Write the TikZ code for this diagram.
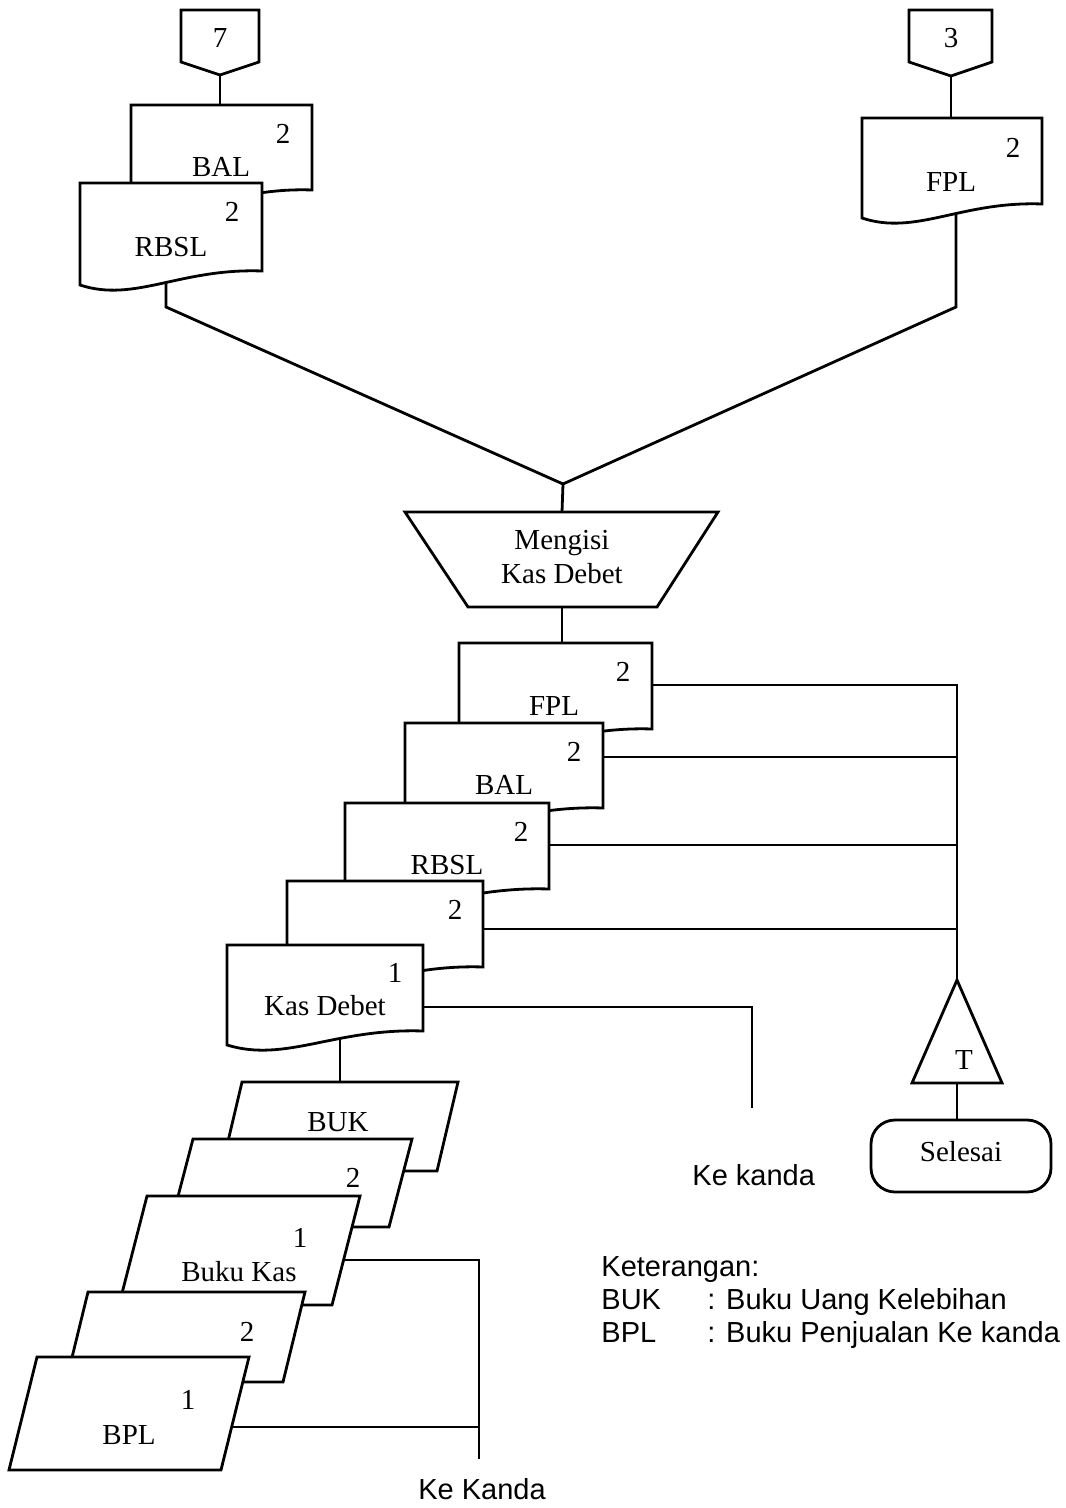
\documentclass[tikz,border=0pt]{standalone}
\usepackage{fontspec}
\setmainfont{Liberation Serif}
\newfontfamily\sansfam{Liberation Sans}
\usetikzlibrary{calc}
\pgfdeclarelayer{bg}
\pgfsetlayers{bg,main}
\tikzset{
  shp/.style={draw=black, fill=white, line width=1.4pt, line join=miter},
  conn/.style={draw=black, line width=1.4pt},
  lbl/.style={font=\fontsize{14.5}{17}\selectfont, inner sep=0pt, align=center},
  slbl/.style={font=\sansfam\fontsize{14.5}{17}\selectfont, inner sep=0pt},
}
% document symbol: name, left x, top y, right x, bottom y at the left edge
\newcommand\docshape[5]{%
  \filldraw[shp] (#2,#3) coordinate (#1-nw) -- (#4,#3) coordinate (#1-ne)
    -- (#4,#5-14) coordinate (#1-se)
    .. controls ({#2+0.55*(#4-#2)},#5-17) and ({#2+0.3*(#4-#2)},#5+18) .. (#2,#5) coordinate (#1-sw)
    -- cycle;}
% slanted record symbol: name, top-left x, top-right x, top y, bottom y, slant
\newcommand\paraslant[6]{%
  \filldraw[shp] (#2,#4) coordinate (#1-nw) -- (#3,#4) coordinate (#1-ne)
    -- ({#3-#6},#5) coordinate (#1-se) -- ({#2-#6},#5) coordinate (#1-sw) -- cycle;}
\begin{document}
\begin{tikzpicture}[x=0.5pt,y=-0.5pt]
\useasboundingbox (0,0) rectangle (1065,1508);

% off-page connectors
\filldraw[shp] (181,10) -- (259,10) -- (259,62) -- (220,75) coordinate (c7-s) -- (181,62) -- cycle;
\node[lbl] (c7) at (220,38) {7};
\filldraw[shp] (909,10) -- (992,10) -- (992,62) -- (951,76) coordinate (c3-s) -- (909,62) -- cycle;
\node[lbl] (c3) at (951,38) {3};

% incoming documents
\docshape{bal1}{131}{105}{312}{204}
\node[lbl] (bal1-n) at (283,134) {2};
\node[lbl] (bal1-t) at (221,167) {BAL};
\docshape{rb1}{80}{183}{262}{285}
\node[lbl] (rb1-n) at (232,212) {2};
\node[lbl] (rb1-t) at (171,247) {RBSL};
\docshape{fp1}{862}{118}{1042}{218}
\node[lbl] (fp1-n) at (1013,148) {2};
\node[lbl] (fp1-t) at (951,182) {FPL};

% manual operation
\filldraw[shp] (405,512) coordinate (op-nw) -- (718,512) -- (657,607) -- (468,607) -- cycle;
\coordinate (op-n) at (562,512);
\coordinate (op-s) at (562,607);
\node[lbl] (op) at (562,557) {Mengisi\\Kas Debet};

% output documents
\docshape{fp2}{459}{643}{652}{743}
\node[lbl] (fp2-n) at (623,672) {2};
\node[lbl] (fp2-t) at (554,706) {FPL};
\docshape{bal2}{405}{723}{603}{822}
\node[lbl] (bal2-n) at (574,752) {2};
\node[lbl] (bal2-t) at (504,785) {BAL};
\docshape{rb2}{345}{803}{549}{903}
\node[lbl] (rb2-n) at (521,832) {2};
\node[lbl] (rb2-t) at (447,865) {RBSL};
\docshape{kd2}{287}{881}{483}{981}
\node[lbl] (kd2-n) at (455,910) {2};
\docshape{kd1}{227}{945}{423}{1045}
\node[lbl] (kd1-n) at (395,973) {1};
\node[lbl] (kd1-t) at (325,1006) {Kas Debet};

% offline file and terminator
\filldraw[shp] (957,980) coordinate (arc-n) -- (1002,1083) -- (912,1083) -- cycle;
\coordinate (arc-s) at (957,1083);
\node[lbl] (arc) at (964,1060) {T};
\filldraw[shp, rounded corners=12] (871,1120) rectangle (1051,1192);
\coordinate (end-n) at (957,1120);
\node[lbl] (end) at (961,1152) {Selesai};

% books
\paraslant{buk}{242}{458}{1082}{1171}{21}
\node[lbl] (buk-t) at (338,1122) {BUK};
\paraslant{bk2}{193}{412}{1139}{1227}{23}
\node[lbl] (bk2-n) at (353,1178) {2};
\paraslant{bk1}{147}{360}{1196}{1305}{28}
\node[lbl] (bk1-n) at (300,1238) {1};
\node[lbl] (bk1-t) at (239,1272) {Buku Kas};
\paraslant{bp2}{88}{305}{1292}{1382}{22}
\node[lbl] (bp2-n) at (247,1332) {2};
\paraslant{bp1}{37}{249}{1357}{1470}{28}
\node[lbl] (bp1-n) at (188,1400) {1};
\node[lbl] (bp1-t) at (129,1435) {BPL};

% free texts
\node[slbl, anchor=base west] (kk1) at (692,1185) {Ke kanda};
\node[slbl, anchor=base west] (kk2) at (418,1499) {Ke Kanda};
\node[slbl, anchor=base west] (ket) at (601,1276) {Keterangan:};
\node[slbl, anchor=base west] (ket-a) at (601,1309) {BUK};
\node[slbl, anchor=base west] (ket-ad) at (707,1309) {: Buku Uang Kelebihan};
\node[slbl, anchor=base west] (ket-b) at (601,1342) {BPL};
\node[slbl, anchor=base west] (ket-bd) at (707,1342) {: Buku Penjualan Ke kanda};

% junction points of the flow lines
\coordinate (jl) at (166,307);
\coordinate (jr) at (956,307);
\coordinate (jm) at (563,484);
\coordinate (bus-top) at (957,685);
\coordinate (kk1-end) at (752,1108);
\coordinate (kk2-top) at (479,1260);
\coordinate (kk2-end) at (479,1459);

\begin{pgfonlayer}{bg}
  \draw[conn] (c7-s) -- (220,105);
  \draw[conn] (c3-s) -- (951,118);
  \draw[conn] (166,270) -- (jl) -- (jm) -- (op-n);
  \draw[conn] (956,200) -- (jr) -- (jm);
  \draw[conn] (op-s) -- (562,643);
  \draw[conn] (640,685) -- (bus-top) -- (arc-n);
  \draw[conn] (590,757) -- (957,757);
  \draw[conn] (540,845) -- (957,845);
  \draw[conn] (470,929) -- (957,929);
  \draw[conn] (410,1007) -- (752,1007) -- (kk1-end);
  \draw[conn] (arc-s) -- (end-n);
  \draw[conn] (340,1030) -- (340,1082);
  \draw[conn] (330,1260) -- (kk2-top) -- (kk2-end);
  \draw[conn] (220,1427) -- (479,1427);
\end{pgfonlayer}
\end{tikzpicture}
\end{document}
